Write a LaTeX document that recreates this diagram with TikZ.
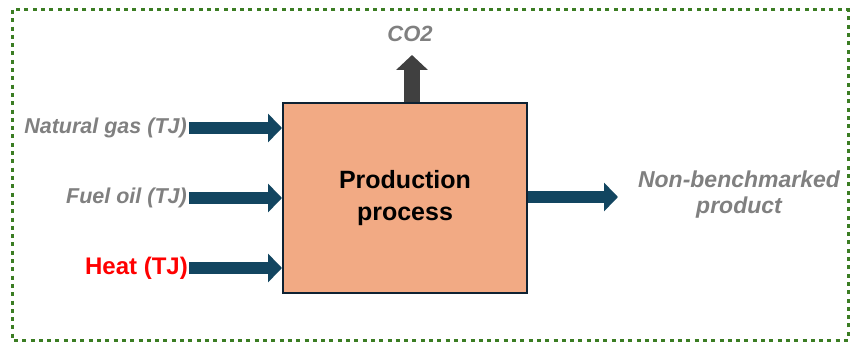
\documentclass[tikz,border=0pt]{standalone}
\usepackage{fontspec}
\setmainfont{Liberation Sans}
\usetikzlibrary{arrows.meta}
\definecolor{frame}{HTML}{3B7D23}
\definecolor{flow}{HTML}{124560}
\definecolor{boxfill}{HTML}{F2AA84}
\definecolor{boxline}{HTML}{0E2233}
\definecolor{labgray}{HTML}{808080}
\definecolor{co2col}{HTML}{404040}
\tikzset{
  inlabel/.style={font=\fontsize{21.5}{24}\selectfont\bfseries\itshape, text=labgray, anchor=east, inner sep=0pt},
  flowarrow/.style={draw=flow, line width=12pt, -{Triangle[width=28pt,length=14pt]}},
  procbox/.style={draw=boxline, line width=2pt, fill=boxfill, minimum width=244pt, minimum height=190pt, inner sep=0pt, align=center, font=\fontsize{25}{32}\selectfont\bfseries},
}
\begin{document}
\begin{tikzpicture}[x=1pt,y=1pt]
\useasboundingbox (0,0) rectangle (851,-342);
\draw[frame, line width=3pt, dash pattern=on 4pt off 4.3pt] (12,-10) rectangle (848,-340);
\node[procbox] (proc) at (405,-198) {Production\\process};
\node[inlabel] (ng) at (187,-128) {Natural gas (TJ)};
\node[inlabel] (fo) at (187,-198) {Fuel oil (TJ)};
\node[inlabel, font=\fontsize{24}{28}\selectfont\bfseries, text=red] (heat) at (188,-268) {Heat (TJ)};
\draw[flowarrow] (ng.east) ++(2,0) -- (ng.east -| proc.west);
\draw[flowarrow] (fo.east) ++(2,0) -- (fo.east -| proc.west);
\draw[flowarrow] (heat.east) ++(1,0) -- (heat.east -| proc.west);
\node[font=\fontsize{22}{24}\selectfont\bfseries\itshape, text=labgray, inner sep=0pt] (co2) at (410,-34) {CO2};
\coordinate (co2end) at (412,-55);
\draw[draw=co2col, line width=16pt, -{Triangle[width=31pt,length=15pt]}] (proc.north -| co2end) -- (co2end);
\node[font=\fontsize{23}{26}\selectfont\bfseries\itshape, text=labgray, align=center, inner sep=0pt] (prod) at (739,-195) {Non-benchmarked\\product};
\coordinate (outend) at (618,-197);
\draw[flowarrow] (proc.east |- outend) -- (outend);
\end{tikzpicture}
\end{document}
